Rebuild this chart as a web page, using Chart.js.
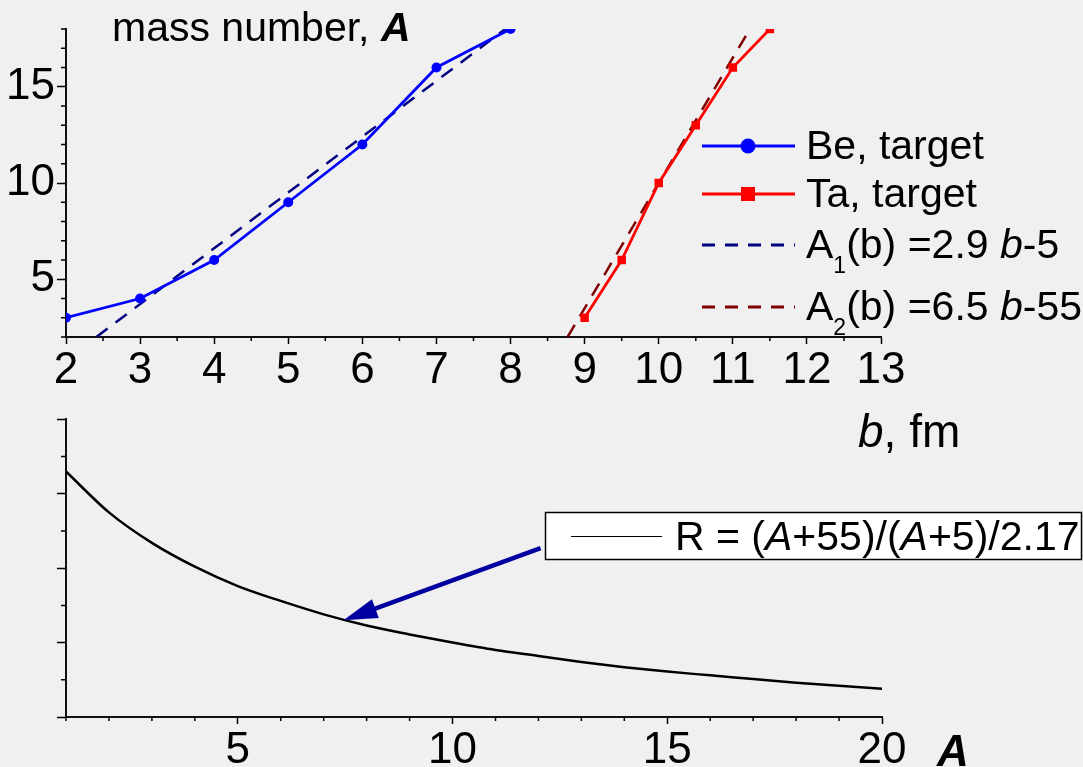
<!DOCTYPE html>
<html><head><meta charset="utf-8">
<script src="https://cdn.jsdelivr.net/npm/chart.js@4"></script>
<style>
html,body{margin:0;padding:0;background:#f0f0f0;}
#wrap{position:relative;width:1083px;height:767px;overflow:hidden;background:#f0f0f0;}
canvas{position:absolute;left:0;}
</style></head><body>
<div id="wrap">
<canvas id="topc" width="1083" height="390" style="top:0;width:1083px;height:390px"></canvas>
<canvas id="botc" width="1083" height="377" style="top:390px;width:1083px;height:377px"></canvas>
</div>
<script>
// ---- data ----
const beX = [2, 3, 4, 5, 6, 7, 8];
const beY = [3, 4, 6, 9, 12, 16, 18];
const taX = [9, 9.5, 10, 10.5, 11, 11.5];
const taY = [3, 6, 10, 13, 16, 18];
const a1X = [2.41, 7.93];
const a1Y = [2, 18];
const a2X = [8.77, 11.23];
const a2Y = [2, 18];
const topYTicks = [5, 10, 15];
const topYMinor = [2,3,4,6,7,8,9,11,12,13,14,16,17,18];
const topXMinor = [2.5,3.5,4.5,5.5,6.5,7.5,8.5,9.5,10.5,11.5,12.5];

const rA = [1,2,3,4,5,6,7,8,9,10,11,12,13,14,15,16,17,18,19,20];
const rVal = [4.30,3.75,3.34,3.02,2.76,2.56,2.38,2.23,2.11,2.00,1.90,1.82,1.74,1.67,1.61,1.56,1.51,1.46,1.42,1.38];
const botXTicks = [5, 10, 15, 20];
const botXMinor = [1,2,3,4,6,7,8,9,11,12,13,14,16,17,18,19];
const botYTicks = [1, 2, 3, 4, 5];
const botYMinor = [1.5, 2.5, 3.5, 4.5];
const arrowFrom = [12.05, 3.27];
const arrowTo = [7.46, 2.30];

const FONT = '"Liberation Sans", Arial, sans-serif';
const pts = (xs, ys) => xs.map((x, i) => ({x, y: ys[i]}));

function drawRich(ctx, x, y, segs, size) {
  ctx.textBaseline = 'alphabetic';
  ctx.textAlign = 'left';
  for (const s of segs) {
    const sz = s.sub ? Math.round(size * 0.55) : size;
    ctx.font = `${s.style || ''} ${sz}px ${FONT}`;
    const yy = s.sub ? y + 15 : y;
    ctx.fillText(s.t, x, yy);
    x += ctx.measureText(s.t).width;
  }
}

const minorPlugin = {
  id: 'minorTicks',
  afterDraw(chart) {
    const o = chart.options.plugins.minorTicks;
    if (!o) return;
    const ctx = chart.ctx;
    const xs = chart.scales.x, ys = chart.scales.y;
    ctx.save();
    ctx.strokeStyle = '#000';
    ctx.lineWidth = 1.5;
    ctx.beginPath();
    for (const v of o.x) {
      const px = xs.getPixelForValue(v);
      ctx.moveTo(px, chart.chartArea.bottom);
      ctx.lineTo(px, chart.chartArea.bottom + o.xLen);
    }
    for (const v of o.y) {
      const py = ys.getPixelForValue(v);
      ctx.moveTo(chart.chartArea.left, py);
      ctx.lineTo(chart.chartArea.left - o.yLen, py);
    }
    ctx.stroke();
    ctx.restore();
  }
};

const topText = {
  id: 'topText',
  afterDraw(chart) {
    const ctx = chart.ctx;
    ctx.save();
    ctx.fillStyle = '#000';
    // title
    drawRich(ctx, 112, 41, [{t: 'mass number, '}, {t: 'A', style: 'italic bold'}], 41);
    // legend
    const rows = [
      {y: 146, color: '#0000ff', dash: [], marker: 'circle', segs: [{t: 'Be, target'}]},
      {y: 194, color: '#ff0000', dash: [], marker: 'rect', segs: [{t: 'Ta, target'}]},
      {y: 245, color: '#000080', dash: [13, 10], marker: null, segs: [{t: 'A'}, {t: '1', sub: 1}, {t: '(b) =2.9 '}, {t: 'b', style: 'italic'}, {t: '-5'}]},
      {y: 307, color: '#800000', dash: [13, 10], marker: null, segs: [{t: 'A'}, {t: '2', sub: 1}, {t: '(b) =6.5 '}, {t: 'b', style: 'italic'}, {t: '-55'}]}
    ];
    for (const r of rows) {
      ctx.strokeStyle = r.color;
      ctx.lineWidth = 3;
      ctx.setLineDash(r.dash);
      ctx.beginPath();
      ctx.moveTo(702, r.y);
      ctx.lineTo(795, r.y);
      ctx.stroke();
      ctx.setLineDash([]);
      ctx.fillStyle = r.color;
      if (r.marker === 'circle') {
        ctx.beginPath(); ctx.arc(748, r.y, 7.5, 0, Math.PI * 2); ctx.fill();
      } else if (r.marker === 'rect') {
        ctx.fillRect(741, r.y - 7, 14, 14);
      }
      ctx.fillStyle = '#000';
      drawRich(ctx, 806, r.y + 13, r.segs, 41);
    }
    ctx.restore();
  }
};

const botText = {
  id: 'botText',
  afterDraw(chart) {
    const ctx = chart.ctx;
    const xs = chart.scales.x, ys = chart.scales.y;
    ctx.save();
    // arrow
    const x0 = xs.getPixelForValue(arrowFrom[0]), y0 = ys.getPixelForValue(arrowFrom[1]);
    const x1 = xs.getPixelForValue(arrowTo[0]), y1 = ys.getPixelForValue(arrowTo[1]);
    const ang = Math.atan2(y1 - y0, x1 - x0);
    const hl = 34, hw = 10;
    const bx = x1 - hl * Math.cos(ang), by = y1 - hl * Math.sin(ang);
    ctx.strokeStyle = '#0000a0';
    ctx.fillStyle = '#0000a0';
    ctx.lineWidth = 4.5;
    ctx.beginPath(); ctx.moveTo(x0, y0); ctx.lineTo(bx + 6 * Math.cos(ang), by + 6 * Math.sin(ang)); ctx.stroke();
    ctx.beginPath();
    ctx.moveTo(x1, y1);
    ctx.lineTo(bx + hw * Math.sin(ang), by - hw * Math.cos(ang));
    ctx.lineTo(bx - hw * Math.sin(ang), by + hw * Math.cos(ang));
    ctx.closePath(); ctx.fill();
    // legend box
    ctx.fillStyle = '#ffffff';
    ctx.fillRect(545, 122, 537, 48);
    ctx.strokeStyle = '#000';
    ctx.lineWidth = 1.5;
    ctx.strokeRect(545.5, 122.5, 536, 47);
    ctx.lineWidth = 1;
    ctx.beginPath(); ctx.moveTo(571, 146.5); ctx.lineTo(662, 146.5); ctx.stroke();
    ctx.fillStyle = '#000';
    drawRich(ctx, 675, 160, [{t: 'R = ('}, {t: 'A', style: 'italic'}, {t: '+55)/('}, {t: 'A', style: 'italic'}, {t: '+5)/2.17'}], 41);
    // axis labels
    drawRich(ctx, 858, 57, [{t: 'b', style: 'italic'}, {t: ', fm'}], 46);
    drawRich(ctx, 937, 376, [{t: 'A', style: 'italic bold'}], 44);
    ctx.restore();
  }
};

const axisCommon = (len) => ({
  grid: {drawOnChartArea: false, drawTicks: true, tickLength: len, color: '#000', tickWidth: 1.5},
  border: {display: true, color: '#111', width: 2}
});

new Chart(document.getElementById('topc'), {
  type: 'scatter',
  data: {
    datasets: [
      {label: 'Be, target', data: pts(beX, beY), showLine: true, borderColor: '#0000ff', backgroundColor: '#0000ff', borderWidth: 2.8, pointStyle: 'circle', pointRadius: 5, pointBorderWidth: 0},
      {label: 'Ta, target', data: pts(taX, taY), showLine: true, borderColor: '#ff0000', backgroundColor: '#ff0000', borderWidth: 2.8, pointStyle: 'rect', pointRadius: 6, pointBorderWidth: 0},
      {label: 'A1(b) =2.9 b-5', data: pts(a1X, a1Y), showLine: true, borderColor: '#000080', borderWidth: 2.5, borderDash: [14, 10], pointRadius: 0},
      {label: 'A2(b) =6.5 b-55', data: pts(a2X, a2Y), showLine: true, borderColor: '#800000', borderWidth: 2.5, borderDash: [14, 10], pointRadius: 0}
    ]
  },
  options: {
    responsive: false, animation: false, events: [], devicePixelRatio: 1,
    layout: {padding: {top: 29, right: 202, left: 0, bottom: 0}},
    plugins: {legend: {display: false}, tooltip: {enabled: false},
      minorTicks: {x: topXMinor, xLen: 4, y: topYMinor, yLen: 5}},
    scales: {
      x: Object.assign(axisCommon(7), {
        type: 'linear', min: 2, max: 13,
        ticks: {stepSize: 1, autoSkip: false, maxRotation: 0, color: '#000', padding: 0, font: {family: FONT, size: 44}},
        afterFit: s => { s.height = 53; }
      }),
      y: Object.assign(axisCommon(9), {
        type: 'linear', min: 2, max: 18,
        afterBuildTicks: s => { s.ticks = topYTicks.map(v => ({value: v})); },
        ticks: {color: '#000', padding: 2, font: {family: FONT, size: 44}},
        afterFit: s => { s.width = 66; }
      })
    }
  },
  plugins: [minorPlugin, topText]
});

new Chart(document.getElementById('botc'), {
  type: 'scatter',
  data: {
    datasets: [
      {label: 'R = (A+55)/(A+5)/2.17', data: pts(rA, rVal), showLine: true, borderColor: '#000', borderWidth: 2.5, pointRadius: 0, cubicInterpolationMode: 'monotone'}
    ]
  },
  options: {
    responsive: false, animation: false, events: [], devicePixelRatio: 1,
    layout: {padding: {top: 20, right: 201, left: 0, bottom: 0}},
    plugins: {legend: {display: false}, tooltip: {enabled: false},
      minorTicks: {x: botXMinor, xLen: 4, y: botYMinor, yLen: 5}},
    scales: {
      x: Object.assign(axisCommon(7), {
        type: 'linear', min: 1, max: 20,
        afterBuildTicks: s => { s.ticks = botXTicks.map(v => ({value: v})); },
        ticks: {autoSkip: false, maxRotation: 0, color: '#000', padding: 0, font: {family: FONT, size: 44}},
        afterFit: s => { s.height = 50; }
      }),
      y: Object.assign(axisCommon(9), {
        type: 'linear', min: 1, max: 5,
        afterBuildTicks: s => { s.ticks = botYTicks.map(v => ({value: v})); },
        ticks: {color: '#000', callback: () => '', font: {family: FONT, size: 44}},
        afterFit: s => { s.width = 66; }
      })
    }
  },
  plugins: [minorPlugin, botText]
});
</script>
</body></html>
